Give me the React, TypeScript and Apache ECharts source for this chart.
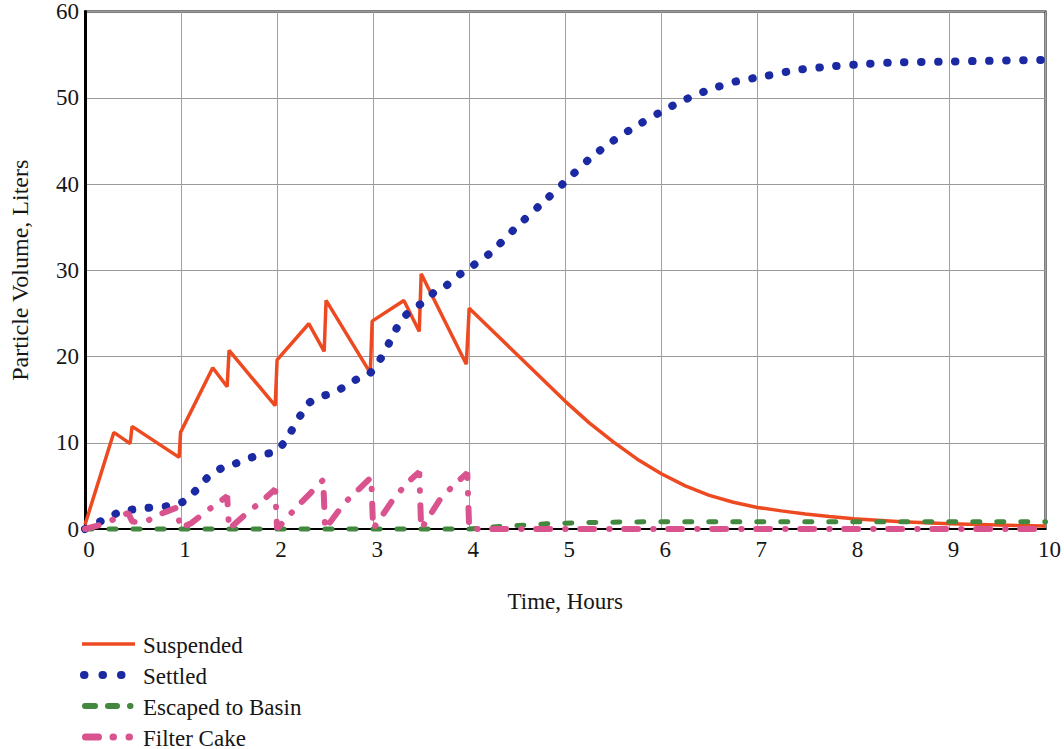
import React, { useEffect, useRef } from "react";
import * as echarts from "echarts";

// ---- data ----
const seriesNames = ["Suspended", "Settled", "Escaped to Basin", "Filter Cake"];
const xAxisTitle = "Time, Hours";
const yAxisTitle = "Particle Volume, Liters";

const suspendedHours = [0, 0.3, 0.47, 0.49, 0.98, 0.995, 1.33, 1.48, 1.5, 1.98, 2.0, 2.33, 2.49, 2.51, 2.97, 2.99, 3.32, 3.48, 3.5, 3.97, 4.0, 4.25, 4.5, 4.75, 5.0, 5.25, 5.5, 5.75, 6.0, 6.25, 6.5, 6.75, 7.0, 7.25, 7.5, 7.75, 8.0, 8.5, 9.0, 9.5, 10];
const suspendedLiters = [0.5, 11.2, 9.9, 11.9, 8.3, 11.2, 18.7, 16.5, 20.7, 14.3, 19.6, 23.8, 20.6, 26.5, 18.1, 24.1, 26.5, 22.9, 29.6, 19.1, 25.6, 22.9, 20.2, 17.5, 14.8, 12.3, 10.1, 8.1, 6.4, 5.0, 3.9, 3.1, 2.5, 2.1, 1.75, 1.45, 1.2, 0.85, 0.6, 0.45, 0.35];

const settledHours = [0, 0.12, 0.24, 0.36, 0.52, 0.7, 0.86, 1.02, 1.11, 1.21, 1.29, 1.43, 1.57, 1.69, 1.83, 1.99, 2.09, 2.25, 2.33, 2.44, 2.59, 2.73, 2.85, 2.97, 3.07, 3.15, 3.21, 3.29, 3.4, 3.53, 3.63, 3.77, 3.86, 3.98, 4.22, 4.5, 4.82, 5.04, 5.25, 5.47, 5.72, 5.97, 6.21, 6.49, 6.78, 7.08, 7.4, 7.73, 8.1, 8.45, 9.0, 10];
const settledLiters = [0, 0.7, 1.25, 2.0, 2.3, 2.5, 2.65, 3.15, 4.0, 5.1, 6.15, 7.1, 7.6, 8.15, 8.6, 9.0, 10.3, 13.3, 14.6, 15.3, 15.8, 16.7, 17.5, 18.1, 19.6, 21.2, 22.6, 24.1, 25.5, 26.3, 27.4, 28.3, 29.2, 30.1, 32.0, 35.1, 38.4, 40.7, 42.9, 44.8, 46.6, 48.2, 49.6, 50.9, 51.9, 52.5, 53.2, 53.6, 53.9, 54.1, 54.2, 54.4];

const escapedHours = [0, 4.0, 4.2, 4.5, 4.8, 5.2, 5.7, 6.2, 10];
const escapedLiters = [0, 0, 0.2, 0.4, 0.6, 0.75, 0.82, 0.85, 0.85];

const cakeHours = [0, 0.23, 0.35, 0.45, 0.49, 0.57, 0.64, 0.8, 0.96, 0.99, 1.11, 1.27, 1.48, 1.5, 1.7, 1.85, 1.98, 2.0, 2.2, 2.35, 2.48, 2.5, 2.7, 2.85, 2.98, 3.0, 3.2, 3.35, 3.48, 3.5, 3.7, 3.85, 3.98, 4.0, 10];
const cakeLiters = [0, 0.7, 1.45, 1.85, 0.9, 0.7, 0.9, 1.8, 2.5, 0.1, 0.7, 2.1, 3.8, 0, 2.0, 3.3, 4.6, 0, 2.5, 4.2, 5.7, 0, 3.0, 4.6, 6.0, 0, 3.3, 5.3, 6.6, 0, 3.5, 5.2, 6.5, 0, 0];

const zip = (xs: number[], ys: number[]) => xs.map((x, i) => [x, ys[i]]);

const FONT = "'Liberation Serif', 'Times New Roman', serif";
const COLORS = ["#ee4a22", "#1b2aa3", "#43883f", "#d9538f"];
const TEXT = "#161616";

export default function App() {
  const ref = useRef<HTMLDivElement>(null);
  useEffect(() => {
    if (!ref.current) return;
    const chart = echarts.init(ref.current, undefined, { renderer: "svg" });

    const legendY = [644, 675, 706, 737];
    const legendIcons: any[] = [
      { type: "line", shape: { x1: 82, y1: legendY[0], x2: 135, y2: legendY[0] }, style: { stroke: COLORS[0], lineWidth: 3.5 } },
      { type: "line", shape: { x1: 84, y1: legendY[1], x2: 122, y2: legendY[1] }, style: { stroke: COLORS[1], lineWidth: 8, lineDash: [0.5, 18], lineCap: "round" } },
      { type: "line", shape: { x1: 85, y1: legendY[2], x2: 131, y2: legendY[2] }, style: { stroke: COLORS[2], lineWidth: 6, lineDash: [10, 13, 9, 13, 0.5, 30], lineCap: "round" } },
      { type: "line", shape: { x1: 85.5, y1: legendY[3], x2: 130, y2: legendY[3] }, style: { stroke: COLORS[3], lineWidth: 7, lineDash: [13, 14.5, 0.5, 15.5, 0.5, 30], lineCap: "round" } },
    ];
    const legendTexts = seriesNames.map((name, i) => ({
      type: "text",
      x: 143,
      y: legendY[i] + 1,
      style: { text: name, fill: TEXT, font: `23px ${FONT}`, verticalAlign: "middle", align: "left" },
    }));

    chart.setOption({
      animation: false,
      backgroundColor: "#ffffff",
      grid: { left: 83, right: 18, top: 8, bottom: 220, show: true, borderColor: "#000", borderWidth: 2, backgroundColor: "transparent" },
      xAxis: {
        type: "value",
        min: 0,
        max: 10,
        interval: 1,
        name: xAxisTitle,
        nameLocation: "middle",
        nameGap: 61,
        nameTextStyle: { fontFamily: FONT, fontSize: 23, color: TEXT },
        axisLine: { show: true, onZero: false, lineStyle: { color: "#000", width: 2 } },
        axisTick: { show: false },
        axisLabel: { fontFamily: FONT, fontSize: 23, color: TEXT, margin: 9, padding: [0, 0, 0, 8] },
        splitLine: { show: true, lineStyle: { color: "#6fb8a4", width: 1 } },
      },
      yAxis: {
        type: "value",
        min: 0,
        max: 60,
        interval: 10,
        name: yAxisTitle,
        nameLocation: "middle",
        nameGap: 53,
        nameTextStyle: { fontFamily: FONT, fontSize: 24, color: TEXT },
        axisLine: { show: true, lineStyle: { color: "#000", width: 3 } },
        axisTick: { show: false },
        axisLabel: { fontFamily: FONT, fontSize: 23, color: TEXT, margin: 6 },
        splitLine: { show: true, lineStyle: { color: "#9a9a9a", width: 1 } },
      },
      series: [
        {
          name: seriesNames[0], type: "line", data: zip(suspendedHours, suspendedLiters), showSymbol: false, clip: false,
          lineStyle: { color: COLORS[0], width: 3.5 }, z: 3,
        },
        {
          name: seriesNames[1], type: "line", data: zip(settledHours, settledLiters), showSymbol: false, clip: false, smooth: 0.2,
          lineStyle: { color: COLORS[1], width: 8, type: [0.5, 16.5], cap: "round" }, z: 4,
        },
        {
          name: seriesNames[2], type: "line", data: zip(escapedHours, escapedLiters), showSymbol: false, clip: false,
          lineStyle: { color: COLORS[2], width: 5, type: [7, 17], cap: "round" }, z: 5,
        },
        {
          name: seriesNames[3], type: "line", data: zip(cakeHours, cakeLiters), showSymbol: false, clip: false,
          lineStyle: { color: COLORS[3], width: 6, type: [14, 15, 0.5, 14.5], cap: "round" }, z: 6,
        },
      ],
      graphic: [...legendIcons, ...legendTexts],
    });
    return () => chart.dispose();
  }, []);
  return <div ref={ref} style={{ position: "absolute", left: 0, top: 0, width: 1064, height: 749 }} />;
}
